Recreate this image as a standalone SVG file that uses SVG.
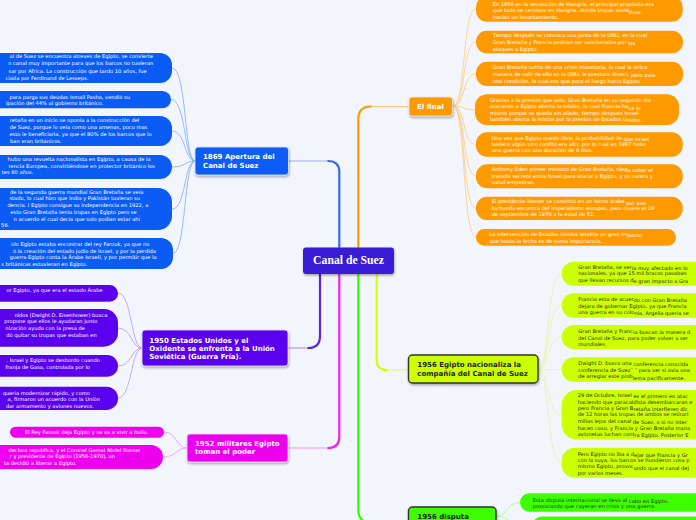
<svg xmlns="http://www.w3.org/2000/svg" width="696" height="520" viewBox="0 0 696 520">
<defs>
<filter id="sh" x="-10%" y="-20%" width="130%" height="160%">
<feDropShadow dx="0.6" dy="1.5" stdDeviation="0.8" flood-color="#000" flood-opacity="0.35"/>
</filter>
<style>
.t{font-family:"DejaVu Sans",Verdana,sans-serif;font-size:5.15px;fill:#fff}
.e{text-anchor:end}
.d{fill:#2e2e2e}
.nl{font-family:"DejaVu Sans",Verdana,sans-serif;font-weight:bold;font-size:7px;fill:#fff}
.nd{fill:#1e1e1e}
.cb{fill:#0a5cf5}
.cp{fill:#5a00ef}
.cm{fill:#ee00ee}
.co{fill:#ff9900}
.cy{fill:#ccff00}
.cg{fill:#3dff00}
.fan{fill:none;stroke-width:0.8}
.main{fill:none;stroke-width:2.2;stroke-linecap:round}
.lite{fill:none;stroke-width:1.2}
</style>
</defs>
<rect width="696" height="520" fill="#f3f5fd"/>

<g id="connectors">
<path class="main" stroke="#2f6bf0" d="M339.3,247 V172 Q339.3,161 328,161"/>
<path class="lite" stroke="#8fb0ff" d="M328,161 H289"/>
<path class="main" stroke="#ff9900" d="M358.3,247 V119 Q358.3,106.5 371,106.5"/>
<path class="lite" stroke="#ffc27a" d="M371,106.5 H409"/>
<path class="main" stroke="#5a22e8" d="M320,274 V336 Q320,348 308,348"/>
<path class="lite" stroke="#b696ff" d="M308,348 H288"/>
<path class="main" stroke="#ee22ee" d="M339.3,274 V437 Q339.3,448 328,448"/>
<path class="lite" stroke="#ff8cff" d="M328,448 H288"/>
<path class="main" stroke="#33ff00" d="M358.3,274 V510 Q358.3,522 370,522 H409"/>
<path class="main" stroke="#d4ff00" d="M376.7,274 V360 Q376.7,370 387,370"/>
<path class="lite" stroke="#e6f77a" d="M387,370 H408"/>
<g class="fan" stroke="#7fa8ff">
<path d="M195,161 C184,161 187,68 172,68"/>
<path d="M195,161 C184,161 186,99.5 171,99.5"/>
<path d="M195,161 C184,161 186,131 172,131"/>
<path d="M195,161 C184,161 186,167 172,167"/>
<path d="M195,161 C184,161 186,209 172,209"/>
<path d="M195,161 C184,161 186,253.5 173,253.5"/>
</g>
<g class="fan" stroke="#b596ff">
<path d="M142,348 C131,348 132,293 118,293"/>
<path d="M142,348 C131,348 132,328 118,328"/>
<path d="M142,348 C131,348 132,366 118,366"/>
<path d="M142,348 C131,348 132,398 118,398"/>
</g>
<g class="fan" stroke="#ff8cff">
<path d="M187,448 C176,448 177,432 164,432"/>
<path d="M187,448 C176,448 176,457 163,457"/>
</g>
<g class="fan" stroke="#ffc97a">
<path d="M453,106 C466,106 462,9 476,9"/>
<path d="M453,106 C466,106 462,42 476,42"/>
<path d="M453,106 C466,106 462,74 476,74"/>
<path d="M453,106 C466,106 462,110 475,110"/>
<path d="M453,106 C466,106 462,144.5 476,144.5"/>
<path d="M453,106 C466,106 462,176 476,176"/>
<path d="M453,106 C466,106 462,208 476,208"/>
<path d="M453,106 C466,106 462,237 476,237"/>
</g>
<g class="fan" stroke="#e3f59a">
<path d="M538,370 C550,370 546,273.7 561.7,273.7"/>
<path d="M538,370 C550,370 546,305.5 561.7,305.5"/>
<path d="M538,370 C550,370 546,337 561.7,337"/>
<path d="M538,370 C550,370 546,369.5 561.7,369.5"/>
<path d="M538,370 C550,370 546,414.7 561.7,414.7"/>
<path d="M538,370 C550,370 546,462.7 561.7,462.7"/>
</g>
<g class="fan" stroke="#99ff80">
<path d="M496,516 C508,516 506,502.5 520,502.5"/>
<path d="M496,516 C510,516 516,530 532,530"/>
</g>
</g>

<g id="n-center">
<rect x="303" y="247.5" width="91" height="26.5" rx="3" fill="#3a1dd6" filter="url(#sh)"/>
<text x="348.5" y="263.5" text-anchor="middle" font-family="'Liberation Serif',serif" font-weight="bold" font-size="11.7" fill="#fff">Canal de Suez</text>
</g>

<g id="n-1869">
<rect x="195" y="147" width="93.5" height="28" rx="3" class="cb" stroke="#e4e8f5" stroke-width="0.8" filter="url(#sh)"/>
<text class="nl" x="203" y="158.7">1869 Apertura del</text>
<text class="nl" x="203" y="167.5">Canal de Suez</text>
</g>
<g id="b1"><rect x="-200" y="53" width="372" height="30" rx="12" class="cb"/>
<text class="t e" x="153.3" y="58">al de Suez se encuentra atreves de Egipto, se convierte</text>
<text class="t e" x="153.3" y="65.3">n canal muy importante para que los barcos no tuvieran</text>
<text class="t e" x="146.7" y="72.6">sar por Africa. La construcción que tardo 10 años, fue</text>
<text class="t e" x="88.3" y="79.6">ciada por Ferdinand de Lesseps.</text></g>
<g id="b2"><rect x="-200" y="91" width="371" height="17.3" rx="8.6" class="cb"/>
<text class="t e" x="130" y="98.8">para parga sus deudas Ismail Pasha, vendió su</text>
<text class="t e" x="103.3" y="104.5">ipación del 44% al gobierno británico.</text></g>
<g id="b3"><rect x="-200" y="116" width="372" height="30" rx="12" class="cb"/>
<text class="t e" x="139.3" y="122.3">retaña en un inicio se oponía a la construcción del</text>
<text class="t e" x="147.3" y="129.3">de Suez, porque lo veía como una amenas, poco mas</text>
<text class="t e" x="151.7" y="136">esto le beneficiaria, ya que el 80% de los barcos que lo</text>
<text class="t e" x="61.7" y="142.5">ban eran británicos.</text></g>
<g id="b4"><rect x="-200" y="155" width="372" height="24" rx="12" class="cb"/>
<text class="t e" x="150.7" y="161">hubo una revuelta nacionalista en Egipto, a causa de la</text>
<text class="t e" x="155" y="167.6">rencia Europea, convirtiéndose en protector británico los</text>
<text class="t e" x="33.3" y="174.3">tes 60 años.</text></g>
<g id="b5"><rect x="-200" y="188" width="372" height="42" rx="14" class="cb"/>
<text class="t e" x="143.3" y="193.8">de la segunda guerra mundial Gran Bretaña se veía</text>
<text class="t e" x="140" y="200.4">stado, lo cual hizo que India y Pakistán tuvieran su</text>
<text class="t e" x="148.3" y="207.4">dencia. I Egipto consigue su independencia en 1922, a</text>
<text class="t e" x="136.7" y="214">esto Gran Bretaña tenía tropas en Egipto pero se</text>
<text class="t e" x="140" y="220.6">n acuerdo el cual decía que solo podían estar ahí</text>
<text class="t e" x="9.3" y="227">56.</text></g>
<g id="b6"><rect x="-200" y="238" width="373" height="31" rx="12" class="cb"/>
<text class="t e" x="149.3" y="246">olo Egipto estaba encontrar del rey Farouk, ya que no</text>
<text class="t e" x="156" y="252.5">ó la creación del estado judío de Israel, y por la perdida</text>
<text class="t e" x="156.7" y="259">guerra Egipto conta la Árabe Israelí, y por permitir que la</text>
<text class="t e" x="87.3" y="265.7">s británicas estuvieran en Egipto.</text></g>

<g id="n-1950">
<rect x="142" y="330" width="146" height="36" rx="3" class="cp" stroke="#e4e8f5" stroke-width="0.8" filter="url(#sh)"/>
<text class="nl" x="149.3" y="342.7">1950 Estados Unidos y el</text>
<text class="nl" x="149.3" y="350.7">Oxidente se enfrenta a la Unión</text>
<text class="nl" x="149.3" y="358.9">Soviética (Guerra Fría).</text>
</g>
<g id="p1"><rect x="-200" y="285" width="318" height="16.7" rx="8.3" class="cp"/>
<text class="t e" x="102.7" y="292.3">or Egipto, ya que era el estado Árabe</text></g>
<g id="p2"><rect x="-200" y="309" width="318" height="37.7" rx="14" class="cp"/>
<text class="t e" x="107.3" y="316.5">nidos (Dwight D. Eisenhower) busca</text>
<text class="t e" x="97.3" y="322.8">propone que ellos le ayudaran junto</text>
<text class="t e" x="85" y="329.5">nización ayuda con la presa de</text>
<text class="t e" x="96.7" y="336.5">dó quitar su tropas que estaban en</text></g>
<g id="p3"><rect x="-200" y="355" width="318" height="21.7" rx="10.8" class="cp"/>
<text class="t e" x="100" y="362">. Israel y Egipto se desbordo cuando</text>
<text class="t e" x="90" y="368.6">franja de Gasa, controlada por lo</text></g>
<g id="p4"><rect x="-200" y="386.7" width="318" height="23.3" rx="11.6" class="cp"/>
<text class="t e" x="90" y="394.5">quería modernizar rápido, y como</text>
<text class="t e" x="100" y="401">a, firmaron un acuerdo con la Unión</text>
<text class="t e" x="94" y="407.6">dar armamento y aviones nuevos.</text></g>

<g id="n-1952">
<rect x="187" y="434" width="101" height="28" rx="3" class="cm" stroke="#e4e8f5" stroke-width="0.8" filter="url(#sh)"/>
<text class="nl" x="195" y="445.8">1952 militares Egipto</text>
<text class="nl" x="195" y="454.4">toman el poder</text>
</g>
<g id="m1"><rect x="10" y="426.7" width="154" height="11" rx="5.5" class="cm"/>
<text class="t" x="86.7" y="433.8" text-anchor="middle">El Rey Farouk deja Egipto y se va a vivir a Italia.</text></g>
<g id="m2"><rect x="-200" y="445" width="363" height="24" rx="12" class="cm"/>
<text class="t e" x="140.7" y="451.6">declara republica, y el Coronel Gamal Abdel Nasser</text>
<text class="t e" x="115" y="458.4">r y presidente de Egipto (1956-1970), un</text>
<text class="t e" x="76.7" y="465">ta decidió a liberar a Egipto.</text></g>

<g id="n-final">
<rect x="409" y="97" width="43.5" height="19" rx="3" class="co" stroke="#e4e8f5" stroke-width="0.8" filter="url(#sh)"/>
<text class="nl" x="417" y="109.3">El final</text>
</g>
<g id="o1"><rect x="476" y="-4" width="206.7" height="25.7" rx="11" class="co"/>
<text class="t" x="492.7" y="6.2">En 1956 en la revolución de Hungría, el principal propósito era</text>
<text class="t" x="492.7" y="12.3">que todo se centrara en Hungría, donde tropas sovié<tspan dy="1.2">ticas</tspan></text>
<text class="t" x="492.7" y="18.7">hacían un levantamiento.</text></g>
<g id="o2"><rect x="476" y="30.7" width="207" height="22.6" rx="11" class="co"/>
<text class="t" x="492.7" y="37.3">Tiempo después se convoca una junta de la ONU, en la cual</text>
<text class="t" x="492.7" y="44">Gran Bretaña y Francia podrían ser sancionados por <tspan dy="1.3">los</tspan></text>
<text class="t" x="492.7" y="50.7">ataques a Egipto.</text></g>
<g id="o3"><rect x="476" y="61.7" width="207" height="24.3" rx="11" class="co"/>
<text class="t" x="492.7" y="69.3">Gran Bretaña sufría de una crisis monetaria, la cual la única</text>
<text class="t" x="492.7" y="76">manera de salir de ella es la ONU, le prestara dinero, <tspan dy="1.3">pero avía</tspan></text>
<text class="t" x="492.7" y="82.7">una condición, la cual era que para el fuego hacia Egipto.</text></g>
<g id="o4"><rect x="475" y="94.3" width="204" height="30.7" rx="12" class="co"/>
<text class="t" x="490" y="101.7">Gracias a la presión que avía, Gran Bretaña en su segundo día</text>
<text class="t" x="490" y="108.3">atacando a Egipto aborta la misión, lo cual Francia ha<tspan dy="1.3">ce lo</tspan></text>
<text class="t" x="490" y="114.5">mismo porque se queda sin aliado, tiempo después Israel</text>
<text class="t" x="490" y="120.5">también aborta la misión por la presión de Estados U<tspan dy="1.2">nidos.</tspan></text></g>
<g id="o5"><rect x="476" y="132.3" width="206.7" height="24.4" rx="11" class="co"/>
<text class="t" x="491.7" y="140">Una vez que Egipto quedo libre, la probabilidad de <tspan dy="1.2">que Israel</tspan></text>
<text class="t" x="491.7" y="146.3">tuviera algún otro confito era alto, por lo cual en 1967 hubo</text>
<text class="t" x="491.7" y="152.3">una guerra con una duración de 6 días.</text></g>
<g id="o6"><rect x="476" y="164.3" width="206.7" height="24" rx="11" class="co"/>
<text class="t" x="491.7" y="171">Anthony Eden primer ministro de Gran Bretaña, nieg<tspan dy="1.2">a saber el</tspan></text>
<text class="t" x="491.7" y="178.3">tratado secreto entre Israel para atacar a Egipto, y su carera y</text>
<text class="t" x="491.7" y="184.3">salud empeoran.</text></g>
<g id="o7"><rect x="476" y="196.7" width="206.7" height="23.3" rx="11" class="co"/>
<text class="t" x="491.7" y="203.3">El presidente Nasser se convirtió en un héros árabe <tspan dy="1.2">por ave</tspan></text>
<text class="t" x="491.7" y="210">luchando encontra del imperialismo europeo. pero muere el 28</text>
<text class="t" x="491.7" y="216">de septiembre de 1970 a la edad de 52.</text></g>
<g id="o8"><rect x="476" y="229" width="200" height="16.7" rx="8.3" class="co"/>
<text class="t" x="489.3" y="236">La intervención de Estados Unidos tendría un gran im<tspan dy="1.2">pacto</tspan></text>
<text class="t" x="489.3" y="242.7">que hasta la fecha es de suma importancia.</text></g>

<g id="n-1956a">
<rect x="408.5" y="355" width="129.5" height="28" rx="4" class="cy" stroke="#333" stroke-width="1.4" filter="url(#sh)"/>
<text class="nl nd" x="417.3" y="367.2">1956 Egipto nacionaliza la</text>
<text class="nl nd" x="417.3" y="376.4">compañía del Canal de Suez</text>
</g>
<g id="y1"><rect x="561.7" y="261.7" width="300" height="24" rx="12" class="cy"/>
<text class="t d" x="578.3" y="269">Gran Bretaña, se ver<tspan dy="1.2">ía muy afectado en lo</tspan></text>
<text class="t d" x="578.3" y="275.3">nacionales, ya que 15 mil bracos pasaban</text>
<text class="t d" x="578.3" y="282">que llevan recursos d<tspan dy="1.2">e gran impacto a Gra</tspan></text></g>
<g id="y2"><rect x="561.7" y="293.3" width="300" height="24.4" rx="12" class="cy"/>
<text class="t d" x="578.3" y="301">Francia esta de acuer<tspan dy="1.2">do con Gran Bretaña</tspan></text>
<text class="t d" x="578.3" y="307.8">dejara de gobernar Egipto, ya que Francia</text>
<text class="t d" x="578.3" y="314.2">una guerra en su colo<tspan dy="1.2">nia, Argelia quería se</tspan></text></g>
<g id="y3"><rect x="561.7" y="325" width="300" height="24" rx="12" class="cy"/>
<text class="t d" x="578.3" y="333">Gran Bretaña y Franc<tspan dy="1.2">ia buscan la manera d</tspan></text>
<text class="t d" x="578.3" y="340.4">del Canal de Suez, para poder volver a ser</text>
<text class="t d" x="578.3" y="346">mundiales.</text></g>
<g id="y4"><rect x="561.7" y="357.3" width="300" height="24.4" rx="12" class="cy"/>
<text class="t d" x="578.3" y="365">Dwight D. busco una <tspan dy="1.2">conferencia conocida</tspan></text>
<text class="t d" x="578.3" y="372">conferencia de Suez¨ ¨ para ver si avía una</text>
<text class="t d" x="578.3" y="378.3">de arreglar este prob<tspan dy="1.2">lema pacificamente.</tspan></text></g>
<g id="y5"><rect x="561.7" y="390" width="300" height="49.3" rx="15" class="cy"/>
<text class="t d" x="577.7" y="397">29 de Octubre, Israel <tspan dy="1.2">es el primero en atac</tspan></text>
<text class="t d" x="577.7" y="403.6">haciendo que paracaidista desembarcaran e</text>
<text class="t d" x="577.7" y="410">pero Francia y Gran B<tspan dy="1.2">retaña interfieren dic</tspan></text>
<text class="t d" x="577.7" y="416.4">de 12 horas las tropas de ambos se retirari</text>
<text class="t d" x="577.7" y="423">millas lejos del canal <tspan dy="1.2">de Suez, o si no inter</tspan></text>
<text class="t d" x="577.7" y="429.5">hacen caso, y Francia y Gran Bretaña mana</text>
<text class="t d" x="577.7" y="436">avionetas luchan cont<tspan dy="1.2">ra Egipto. Posterior E</tspan></text></g>
<g id="y6"><rect x="561.7" y="447.7" width="300" height="30" rx="13" class="cy"/>
<text class="t d" x="577.7" y="455.5">Pero Egipto no iba a d<tspan dy="1.2">ejar que Francia y Gr</tspan></text>
<text class="t d" x="577.7" y="462">con la suya, los barcos se hundieron cosa p</text>
<text class="t d" x="577.7" y="468.3">mismo Egipto, provoc<tspan dy="1.2">ando que el canal dej</tspan></text>
<text class="t d" x="577.7" y="475.2">por varios meses.</text></g>

<g id="n-1956b">
<rect x="408.5" y="507" width="87.5" height="30" rx="4" class="cg" stroke="#333" stroke-width="1.4" filter="url(#sh)"/>
<text class="nl nd" x="417.3" y="518.7">1956 disputa</text>
</g>
<g id="g1"><rect x="520" y="493.3" width="300" height="18.4" rx="9.2" class="cg"/>
<text class="t d" x="532.7" y="501.8">Esta disputa internacional se llevo al <tspan dy="1.2">cabo en Egipto,</tspan></text>
<text class="t d" x="532.7" y="508.3">provocando que cayeran en crisis y una guerra.</text></g>
<g id="g2"><rect x="532" y="516.5" width="300" height="30" rx="10" class="cg"/></g>
</svg>
